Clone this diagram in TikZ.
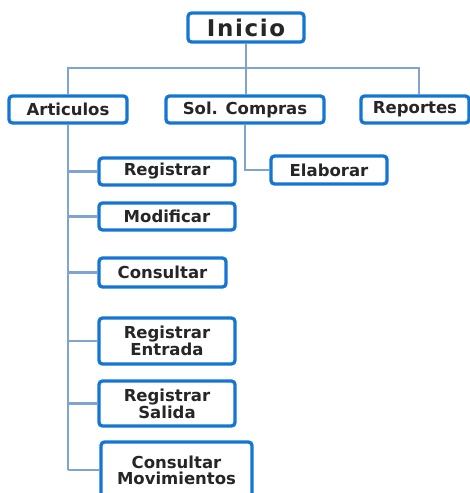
\documentclass[tikz,border=0pt]{standalone}
\usepackage{fontspec}
\setmainfont{DejaVu Sans}
\begin{document}
\begin{tikzpicture}[x=1pt,y=-1pt,
  menubox/.style={draw=boxblue, line width=3.3pt, rounded corners=3.5pt, fill=white,
    inner sep=0pt, font=\bfseries\fontsize{16.5}{16}\selectfont,
    text=black!85, align=center, anchor=center},
  link/.style={draw=linkblue, line width=2.8pt}]
\definecolor{boxblue}{RGB}{20,118,210}
\definecolor{linkblue}{RGB}{128,164,210}
\useasboundingbox (0,0) rectangle (470,493);
% free ends of the tree lines
\coordinate (tl) at (68,68);
\coordinate (tr) at (419,68);
\coordinate (abot) at (68,470);
% menu boxes
\node[menubox, minimum width=116pt, minimum height=29pt,
  font=\bfseries\fontsize{23}{23}\selectfont\addfontfeatures{LetterSpace=7}] (ini) at (246,27.5) {Inicio};
\node[menubox, minimum width=118pt, minimum height=27pt] (art) at (68,109.5) {Articulos};
\node[menubox, minimum width=158pt, minimum height=27pt] (sol) at (245,109.5) {Sol. Compras};
\node[menubox, minimum width=108pt, minimum height=27pt] (rep) at (415,109.5) {Reportes};
\node[menubox, minimum width=116pt, minimum height=28pt] (ela) at (329,170) {Elaborar};
\node[menubox, minimum width=136pt, minimum height=27pt] (reg) at (167,171.5) {Registrar};
\node[menubox, minimum width=136pt, minimum height=27pt] (mod) at (167,216.5) {Modificar};
\node[menubox, minimum width=127pt, minimum height=29pt] (con) at (162.5,272.5) {Consultar};
\node[menubox, minimum width=136pt, minimum height=46pt] (rent) at (167,341) {Registrar\\Entrada};
\node[menubox, minimum width=136pt, minimum height=45pt] (rsal) at (167,403.5) {Registrar\\Salida};
\node[menubox, minimum width=151pt, minimum height=56pt] (cmov) at (176.5,470) {Consultar\\Movimientos};
% tree connectors
\path[link] (ini.south) -- (ini.south |- art.north);
\path[link] (tl |- art.north) -- (tl) -- (tr) -- (tr |- rep.north);
\path[link] (art.south) -- (abot);
\path[link] (sol.south) |- (ela.west);
\path[link] (abot |- reg.west) -- (reg.west);
\path[link] (abot |- mod.west) -- (mod.west);
\path[link] (abot |- con.west) -- (con.west);
\path[link] (abot |- rent.west) -- (rent.west);
\path[link] (abot |- rsal.west) -- (rsal.west);
\path[link] (abot |- cmov.west) -- (cmov.west);
\end{tikzpicture}
\end{document}
